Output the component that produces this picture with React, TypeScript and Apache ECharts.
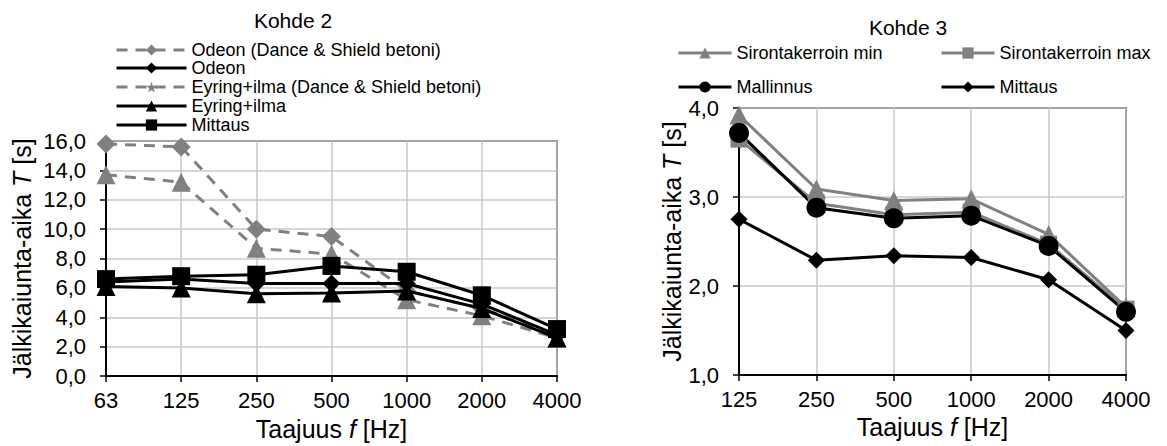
import React, { useEffect, useRef } from "react";
import * as echarts from "echarts";

// ---- Data: Kohde 2 ----
const freqs2 = ["63", "125", "250", "500", "1000", "2000", "4000"];
const odeonDance = [15.8, 15.6, 10.0, 9.5, 5.8, 4.6, 2.8];
const odeon = [6.4, 6.6, 6.3, 6.3, 6.3, 4.9, 2.8];
const eyringDance = [13.7, 13.2, 8.7, 8.3, 5.2, 4.1, 2.6];
const eyring = [6.1, 6.0, 5.6, 5.65, 5.8, 4.6, 2.6];
const mittaus2 = [6.6, 6.8, 6.9, 7.5, 7.1, 5.5, 3.2];

// ---- Data: Kohde 3 ----
const freqs3 = ["125", "250", "500", "1000", "2000", "4000"];
const sirMin = [3.92, 3.09, 2.96, 2.98, 2.58, 1.76];
const sirMax = [3.65, 2.93, 2.8, 2.83, 2.47, 1.74];
const mallinnus = [3.72, 2.88, 2.76, 2.79, 2.45, 1.71];
const mittaus3 = [2.75, 2.29, 2.34, 2.32, 2.07, 1.5];

const FONT = "'Liberation Sans', Arial, sans-serif";
const GREY = "#808080";
const BLACK = "#000000";
const GRID_LINE = "#c8c8c8";
const STAR = "path://M50,0 L61,35 L98,35 L68,57 L79,91 L50,70 L21,91 L32,57 L2,35 L39,35 Z";

const fmt = (v: number) => v.toFixed(1).replace(".", ",");

const nameStyle = {
  color: BLACK,
  fontSize: 25,
  fontFamily: FONT,
  rich: {
    n: { fontSize: 25, fontFamily: FONT, color: BLACK },
    i: { fontSize: 25, fontFamily: FONT, color: BLACK, fontStyle: "italic" },
  },
};

function xAxis(idx: number, data: string[]) {
  return {
    type: "category",
    gridIndex: idx,
    data,
    boundaryGap: false,
    axisLine: { lineStyle: { color: BLACK, width: 2 } },
    axisTick: { show: true, length: 6, lineStyle: { color: BLACK, width: 1.5 } },
    axisLabel: { color: BLACK, fontSize: 22, fontFamily: FONT, margin: 13 },
    splitLine: { show: true, lineStyle: { color: GRID_LINE, width: 1.5 } },
    name: "{n|Taajuus }{i|f}{n| [Hz]}",
    nameLocation: "middle",
    nameGap: 36,
    nameTextStyle: nameStyle,
  };
}

function yAxis(idx: number, min: number, max: number, interval: number, gap: number) {
  return {
    type: "value",
    gridIndex: idx,
    min,
    max,
    interval,
    axisLine: { show: true, lineStyle: { color: BLACK, width: 2 } },
    axisTick: { show: true, length: 6, lineStyle: { color: BLACK, width: 1.5 } },
    axisLabel: { color: BLACK, fontSize: 22, fontFamily: FONT, margin: 20, formatter: (v: number) => fmt(v) },
    splitLine: { show: true, lineStyle: { color: GRID_LINE, width: 1.5 } },
    name: "{n|Jälkikaiunta-aika }{i|T}{n| [s]}",
    nameLocation: "middle",
    nameGap: gap,
    nameTextStyle: nameStyle,
  };
}

function line(name: string, data: any[], idx: number, color: string, symbol: string, size: number, dashed: boolean) {
  return {
    type: "line",
    name,
    data,
    xAxisIndex: idx,
    yAxisIndex: idx,
    symbol,
    symbolSize: size,
    showAllSymbol: true,
    lineStyle: { color, width: 3, type: dashed ? [11, 8] : "solid" },
    itemStyle: { color, borderWidth: 0 },
    emphasis: { disabled: true },
    z: dashed ? 2 : 3,
  };
}

function legend(name: string, left: number, top: number, width: number) {
  return {
    data: [name],
    left,
    top,
    orient: "horizontal",
    padding: 0,
    itemWidth: width,
    itemHeight: 14,
    selectedMode: false,
    lineStyle: { width: 3 },
    textStyle: { color: BLACK, fontSize: 18, fontFamily: FONT },
  };
}

export default function App() {
  const ref = useRef<HTMLDivElement>(null);
  useEffect(() => {
    if (!ref.current) return;
    const chart = echarts.init(ref.current, null, { renderer: "svg" });
    const leftRows = [50, 68, 87, 106, 125];
    const names2 = [
      "Odeon (Dance & Shield betoni)",
      "Odeon",
      "Eyring+ilma (Dance & Shield betoni)",
      "Eyring+ilma",
      "Mittaus",
    ];
    const legends: any[] = names2.map((n, i) => legend(n, 115, leftRows[i] - 9, 70));
    legends.push(legend("Sirontakerroin min", 677, 53 - 9, 53));
    legends.push(legend("Sirontakerroin max", 940, 53 - 9, 53));
    legends.push(legend("Mallinnus", 677, 87 - 9, 53));
    legends.push(legend("Mittaus ", 940, 87 - 9, 53));

    // legend shows a star for this series, the plotted points are triangles
    const eyringDanceData = eyringDance.map((v) => ({ value: v, symbol: "triangle" }));

    chart.setOption({
      animation: false,
      backgroundColor: "#ffffff",
      title: [
        {
          text: "Kohde 2",
          left: 293,
          top: 10,
          textAlign: "center",
          padding: 0,
          textStyle: { color: BLACK, fontSize: 21, fontWeight: "normal", fontFamily: FONT },
        },
        {
          text: "Kohde 3",
          left: 908,
          top: 17,
          textAlign: "center",
          padding: 0,
          textStyle: { color: BLACK, fontSize: 21, fontWeight: "normal", fontFamily: FONT },
        },
      ],
      legend: legends,
      grid: [
        { left: 106, right: 1167 - 557, top: 141, bottom: 446 - 383, show: true, borderColor: BLACK, borderWidth: 1.5, backgroundColor: "transparent" },
        { left: 739, right: 1167 - 1126, top: 108, bottom: 446 - 375, show: true, borderColor: BLACK, borderWidth: 1.5, backgroundColor: "transparent" },
      ],
      xAxis: [xAxis(0, freqs2), xAxis(1, freqs3)],
      yAxis: [yAxis(0, 0, 16, 2, 72), yAxis(1, 1, 4, 1, 52)],
      series: [
        line(names2[0], odeonDance, 0, GREY, "diamond", 19, true),
        line(names2[2], eyringDanceData, 0, GREY, STAR, 19, true),
        line(names2[1], odeon, 0, BLACK, "diamond", 18, false),
        line(names2[3], eyring, 0, BLACK, "triangle", 19, false),
        line(names2[4], mittaus2, 0, BLACK, "rect", 18, false),
        line("Sirontakerroin min", sirMin, 1, GREY, "triangle", 19, false),
        line("Sirontakerroin max", sirMax, 1, GREY, "rect", 17, false),
        line("Mallinnus", mallinnus, 1, BLACK, "circle", 20, false),
        line("Mittaus ", mittaus3, 1, BLACK, "diamond", 17, false),
      ],
    });
    return () => chart.dispose();
  }, []);
  return (
    <div
      ref={ref}
      style={{ position: "fixed", left: 0, top: 0, width: 1167, height: 446, background: "#fff" }}
    />
  );
}
